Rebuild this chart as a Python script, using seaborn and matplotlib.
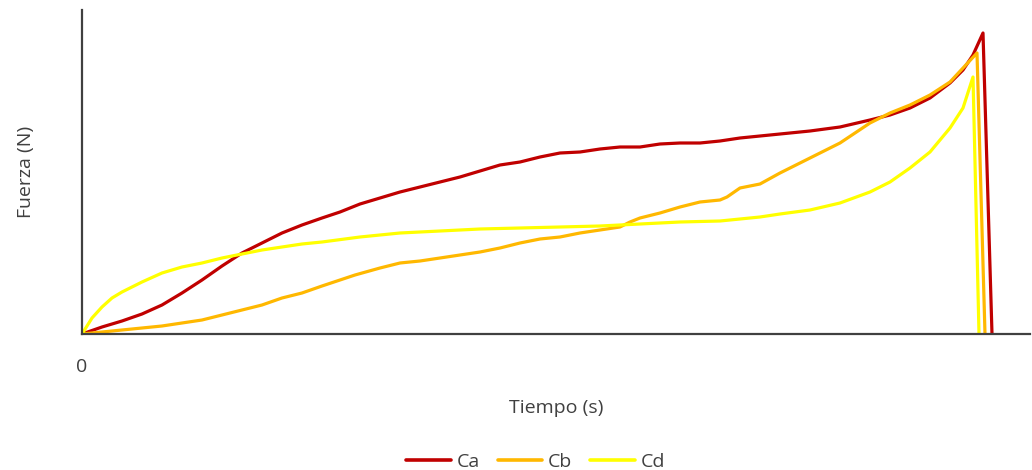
import matplotlib
matplotlib.use("Agg")
import matplotlib.pyplot as plt
import seaborn as sns
import pandas as pd

# Force curves over time for three samples (arbitrary time units)
t_ca = [0, 20, 40, 60, 80, 100, 120, 140, 160, 180, 200, 220, 240, 258, 278,
        298, 318, 338, 358, 378, 398, 418, 438, 458, 478, 498, 518, 538, 558,
        578, 598, 618, 638, 658, 678, 698, 728, 758, 788, 808, 828, 848, 868,
        881, 891, 901, 910]
f_ca = [0, 7, 13, 20, 29, 41, 54, 68, 81, 91, 101, 109, 116, 122, 130,
        136, 142, 147, 152, 157, 163, 169, 172, 177, 181, 182, 185, 187, 187,
        190, 191, 191, 193, 196, 198, 200, 203, 207, 214, 219, 226, 236, 251,
        264, 279, 301, 0]

t_cb = [0, 20, 40, 60, 80, 100, 120, 140, 160, 180, 200, 220, 240, 273, 298,
        318, 338, 358, 378, 398, 418, 438, 458, 478, 498, 518, 538, 548, 558,
        578, 598, 618, 638, 645, 658, 678, 698, 728, 758, 788, 808, 828, 848,
        868, 881, 895, 903]
f_cb = [0, 2, 4, 6, 8, 11, 14, 19, 24, 29, 36, 41, 48, 59, 66,
        71, 73, 76, 79, 82, 86, 91, 95, 97, 101, 104, 107, 112, 116,
        121, 127, 132, 134, 137, 146, 150, 161, 176, 191, 211, 221, 229, 239,
        252, 266, 281, 0]

t_cd = [0, 10, 20, 30, 40, 60, 80, 100, 120, 140, 160, 180, 200, 220, 240,
        278, 318, 358, 398, 438, 478, 518, 558, 598, 638, 658, 678, 698, 728,
        758, 788, 808, 828, 848, 868, 881, 891, 897]
f_cd = [0, 16, 27, 36, 42, 52, 61, 67, 71, 76, 80, 84, 87, 90, 92,
        97, 101, 103, 105, 106, 107, 108, 110, 112, 113, 115, 117, 120, 124,
        131, 142, 152, 166, 182, 206, 226, 257, 0]

series_names = ["Ca", "Cb", "Cd"]
series_colors = ["#C00000", "#FFB800", "#FFFF00"]

frames = []
for name, t, f in zip(series_names, [t_ca, t_cb, t_cd], [f_ca, f_cb, f_cd]):
    frames.append(pd.DataFrame({"Tiempo": t, "Fuerza": f, "Muestra": name}))
df = pd.concat(frames, ignore_index=True)

sns.set_theme(style="white")
plt.rcParams["font.family"] = ["Open Sans", "DejaVu Sans"]

fig = plt.figure(figsize=(10.32, 4.70), dpi=100)
ax = fig.add_axes([82 / 1032, 136 / 470, 948 / 1032, 324 / 470])

sns.lineplot(data=df, x="Tiempo", y="Fuerza", hue="Muestra",
             palette=dict(zip(series_names, series_colors)),
             sort=False, estimator=None, linewidth=2.3, ax=ax, legend=False)

ax.set_xlim(0, 948)
ax.set_ylim(0, 324)
ax.set_xticks([0])
ax.set_xticklabels(["0"], fontsize=14, color="#404040")
ax.set_yticks([])
ax.tick_params(axis="x", length=0, pad=17)

for side in ["top", "right"]:
    ax.spines[side].set_visible(False)
for side in ["left", "bottom"]:
    ax.spines[side].set_color("#404040")
    ax.spines[side].set_linewidth(1.6)

ax.set_xlabel("Tiempo (s)", fontsize=14, color="#404040", labelpad=17)
ax.set_ylabel("Fuerza (N)", fontsize=14, color="#404040", labelpad=34)

handles = [plt.Line2D([0], [0], color=c, linewidth=2.6) for c in series_colors]
fig.legend(handles, series_names, loc="lower center", ncol=3,
           bbox_to_anchor=(0.519, -0.04), frameon=False, fontsize=14,
           handlelength=2.3, columnspacing=0.9, handletextpad=0.3,
           labelcolor="#404040")

fig.savefig("out.png", dpi=100)
